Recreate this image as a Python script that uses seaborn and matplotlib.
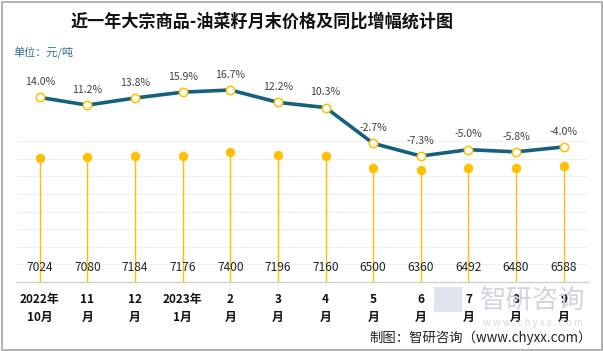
import matplotlib
matplotlib.use("Agg")
import matplotlib.pyplot as plt
import numpy as np
import pandas as pd
import seaborn as sns
from matplotlib.patches import Rectangle

months = ["2022年\n10月", "11\n月", "12\n月", "2023年\n1月", "2\n月", "3\n月",
          "4\n月", "5\n月", "6\n月", "7\n月", "8\n月", "9\n月"]
price = [7024, 7080, 7184, 7176, 7400, 7196, 7160, 6500, 6360, 6492, 6480, 6588]
yoy = [14.0, 11.2, 13.8, 15.9, 16.7, 12.2, 10.3, -2.7, -7.3, -5.0, -5.8, -4.0]

sns.set_style("white")
plt.rcParams["font.family"] = ["Noto Sans CJK SC", "DejaVu Sans"]

df = pd.DataFrame({"pos": np.arange(len(months)), "price": price, "yoy": yoy})

fig = plt.figure(figsize=(6.03, 3.51), dpi=100)
W, H = 603, 351
# plot area in pixel coords: x 16..587.5, y (top) 60..282
ax = fig.add_axes([16 / W, (H - 282) / H, (587.5 - 16) / W, 222 / H])
ax2 = ax.twinx()

gold = "#FFC000"
teal = "#14617F"

# watermark (behind everything)
fig.patches.append(Rectangle((434 / W, 1 - 312 / H), 28 / W, 25 / H,
                             transform=fig.transFigure, fc="#dfe4ee",
                             ec="none", zorder=0))
fig.text(533 / W, 1 - 300 / H, "智研咨询", ha="center", va="center",
         fontsize=19, color="#d0d4dc", zorder=0)
fig.text(533 / W, 1 - 323 / H, "w w w . c h y x x . c o m", ha="center",
         va="center", fontsize=7, color="#d6dae0", zorder=0)

# price axis
ax.set_xlim(-0.5, len(months) - 0.5)
ax.set_ylim(0, 12614)
for g in range(1000, 9000, 1000):
    ax.axhline(g, color="#f0f0f0", lw=0.8, zorder=0)
ax.vlines(df["pos"], 0, df["price"], color=gold, lw=1.0, zorder=2)
sns.scatterplot(data=df, x="pos", y="price", ax=ax, color=gold, s=40,
                edgecolor=gold, zorder=3, legend=False)
for p, v in zip(df["pos"], df["price"]):
    ax.text(p, 800, f"{v}", ha="center", va="center", fontsize=8.6,
            color="#222222", zorder=4)

# yoy axis
ax2.set_ylim(-53.1, 27.6)
sns.lineplot(data=df, x="pos", y="yoy", ax=ax2, color=teal, lw=2.6, zorder=3,
             marker="o", markersize=6, markerfacecolor="white",
             markeredgecolor=gold, markeredgewidth=1.1)
for p, v in zip(df["pos"], df["yoy"]):
    ax2.annotate(f"{v:.1f}%", (p, v), xytext=(0, 11), textcoords="offset points",
                 ha="center", va="center", fontsize=7.6, color="#404040")

for a in (ax, ax2):
    for s in ("top", "left", "right"):
        a.spines[s].set_visible(False)
    a.set_ylabel("")
    a.set_xlabel("")
    a.set_yticks([])
    a.patch.set_alpha(0)
ax2.spines["bottom"].set_visible(False)
ax.spines["bottom"].set_color("#d0d0d0")
ax.spines["bottom"].set_linewidth(1)

ax.set_xticks(df["pos"])
ax.set_xticklabels(months, fontsize=8.5, fontweight="bold", color="#111111",
                   linespacing=1.45)
ax.tick_params(axis="x", length=0, pad=8)

# title and notes
fig.text(0.435, 1 - 22 / H, "近一年大宗商品-油菜籽月末价格及同比增幅统计图",
         ha="center", va="center", fontsize=12.3, fontweight="bold", color="#111111")
fig.text(13 / W, 1 - 53 / H, "单位：元/吨", ha="left", va="center",
         fontsize=8, color="#2f6f8f")

fig.text(592 / W, 1 - 338 / H, "制图：智研咨询（www.chyxx.com）", ha="right",
         va="center", fontsize=9.6, color="#222222")

# outer frame
fig.patches.append(Rectangle((1.5 / W, 1.5 / H), 1 - 3 / W, 1 - 3 / H,
                             transform=fig.transFigure, fill=False,
                             ec="#a6a6a6", lw=1.2))

fig.savefig("out.png", dpi=100)
